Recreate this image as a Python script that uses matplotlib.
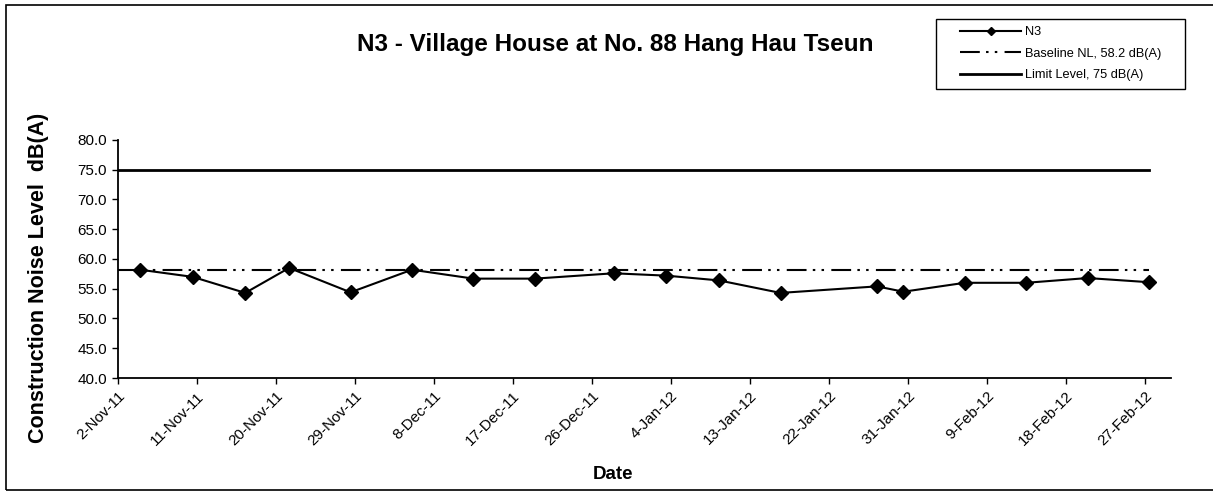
import matplotlib
matplotlib.use('Agg')
import matplotlib.pyplot as plt
import matplotlib.patches as patches
import pandas as pd

# N3 measurements (dd-Mon-yy, dB(A))
dates = ['4-Nov-11', '10-Nov-11', '16-Nov-11', '21-Nov-11', '28-Nov-11', '5-Dec-11',
         '12-Dec-11', '19-Dec-11', '28-Dec-11', '3-Jan-12', '9-Jan-12', '16-Jan-12',
         '27-Jan-12', '30-Jan-12', '6-Feb-12', '13-Feb-12', '20-Feb-12', '27-Feb-12']
n3 = [58.2, 57.0, 54.3, 58.5, 54.4, 58.2, 56.7, 56.7, 57.6,
      57.2, 56.4, 54.3, 55.4, 54.5, 56.0, 56.0, 56.8, 56.1]

baseline = 58.2
limit = 75.0

tick_labels = ['2-Nov-11', '11-Nov-11', '20-Nov-11', '29-Nov-11', '8-Dec-11', '17-Dec-11',
               '26-Dec-11', '4-Jan-12', '13-Jan-12', '22-Jan-12', '31-Jan-12', '9-Feb-12',
               '18-Feb-12', '27-Feb-12']
y_ticks = [40, 45, 50, 55, 60, 65, 70, 75, 80]

plt.rcParams['font.family'] = ['Liberation Sans', 'DejaVu Sans']

x = pd.to_datetime(dates, format='%d-%b-%y') + pd.Timedelta(hours=12)  # excel puts points mid-day
ticks = pd.to_datetime(tick_labels, format='%d-%b-%y')
x_start = ticks[0]
x_end = pd.Timestamp('2012-03-01')

W, H = 1213, 498
fig = plt.figure(figsize=(W / 100, H / 100), dpi=100)
ax = fig.add_axes([118 / W, 1 - 378 / H, 1053 / W, 238 / H])

ax.plot(x, n3, color='black', linewidth=1.5, marker='D', markersize=7, label='N3')
ax.plot([x_start, x[-1]], [baseline, baseline], color='black', linewidth=1.5,
        linestyle=(0, (9.5, 3, 1.2, 3, 1.2, 3.5)), label='Baseline NL, 58.2 dB(A)')
ax.plot([x_start, x[-1]], [limit, limit], color='black', linewidth=2, label='Limit Level, 75 dB(A)')

ax.set_xlim(x_start, x_end)
ax.set_ylim(40, 80)
ax.set_yticks(y_ticks)
ax.set_yticklabels(['%.1f' % v for v in y_ticks], fontsize=11)
ax.set_xticks(ticks)
ax.set_xticklabels(tick_labels, rotation=45, ha='right', rotation_mode='anchor', fontsize=11)
ax.tick_params(direction='out', length=4, width=1, color='black', pad=4)

for s in ['top', 'right']:
    ax.spines[s].set_visible(False)
for s in ['left', 'bottom']:
    ax.spines[s].set_linewidth(1.3)

ax.set_ylabel('Construction Noise Level  dB(A)', fontsize=15.5, fontweight='bold')
ax.yaxis.set_label_coords(-0.066, 0.42)
ax.set_xlabel('Date', fontsize=13.5, fontweight='bold')
ax.xaxis.set_label_coords(0.47, -0.37)

fig.text(615 / W, 1 - 44 / H, 'N3 - Village House at No. 88 Hang Hau Tseun',
         ha='center', va='center', fontsize=17.5, fontweight='bold')

leg = ax.legend(loc='upper left', bbox_to_anchor=(960 / W, 1 - 26 / H),
                bbox_transform=fig.transFigure, fontsize=9.2, frameon=False,
                handlelength=4.8, handletextpad=0.3, labelspacing=0.75,
                markerscale=0.6, borderpad=0, borderaxespad=0)

# legend box and outer frame of the pasted chart
fig.patches.append(patches.Rectangle((936 / W, 1 - 89 / H), 249 / W, 70 / H,
                                     transform=fig.transFigure, fill=False,
                                     edgecolor='black', linewidth=1))
fig.patches.append(patches.Rectangle((6 / W, 8 / H), 1.0, 1 - 13 / H,
                                     transform=fig.transFigure, fill=False,
                                     edgecolor='black', linewidth=1.2))

fig.savefig('out.png', dpi=100)
